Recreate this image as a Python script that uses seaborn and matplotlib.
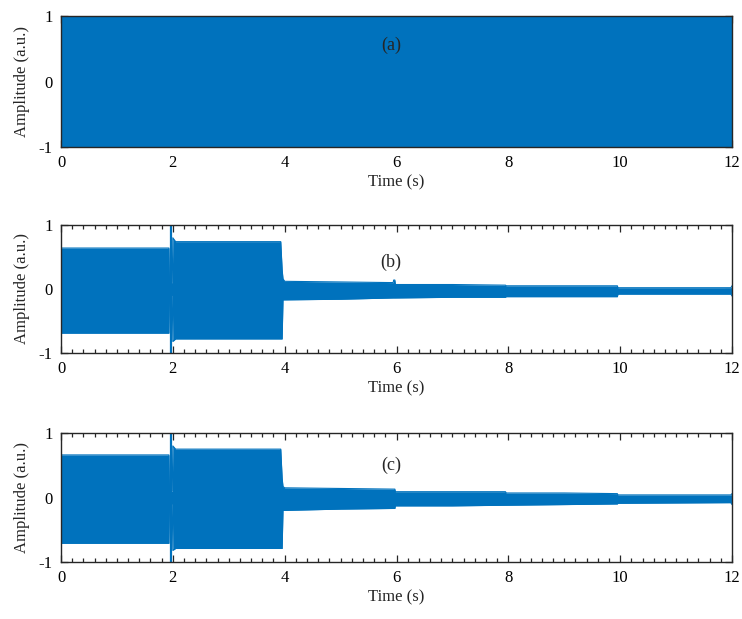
import matplotlib
matplotlib.use("Agg")
import matplotlib.pyplot as plt
from matplotlib.ticker import MultipleLocator
import seaborn as sns

# Signal envelopes (upper / lower amplitude) at segment breakpoints, in seconds
t_a = [0.0, 12.0]
upper_a = [1.0, 1.0]
lower_a = [-1.0, -1.0]

t_b = [0.00, 1.93, 1.94, 1.99, 2.00, 2.05, 3.93, 3.955, 3.97, 4.00, 5.00, 5.94, 5.95, 5.97, 5.98,
       7.00, 7.95, 7.96, 9.95, 9.96, 11.98, 12.00]
upper_b = [0.64, 0.64, 0.10, 0.10, 0.80, 0.74, 0.74, 0.30, 0.16, 0.12, 0.11, 0.10, 0.14, 0.14, 0.07,
           0.07, 0.06, 0.05, 0.05, 0.02, 0.02, 0.05]
lower_b = [-0.69, -0.69, -0.10, -0.10, -0.82, -0.78, -0.78, -0.78, -0.17, -0.17, -0.16, -0.14, -0.14, -0.14, -0.14,
           -0.13, -0.13, -0.12, -0.12, -0.08, -0.08, -0.11]

t_c = [0.00, 1.93, 1.94, 1.99, 2.00, 2.05, 3.93, 3.955, 3.97, 4.00, 5.00, 5.94, 5.97, 5.98,
       7.00, 7.95, 7.96, 9.00, 9.95, 9.96, 11.98, 12.00]
upper_c = [0.66, 0.66, 0.10, 0.10, 0.80, 0.75, 0.75, 0.30, 0.17, 0.15, 0.14, 0.13, 0.13, 0.09,
           0.09, 0.09, 0.07, 0.07, 0.06, 0.04, 0.04, 0.06]
lower_c = [-0.71, -0.71, -0.10, -0.10, -0.82, -0.79, -0.79, -0.79, -0.20, -0.20, -0.18, -0.17, -0.17, -0.13,
           -0.13, -0.12, -0.12, -0.11, -0.10, -0.09, -0.08, -0.11]

# Switching transient near t = 2 s
spike_t = [1.965, 1.965]
spike_range = [-1.0, 1.0]

panel_labels = ["(a)", "(b)", "(c)"]
label_pos = [(5.9, 0.55), (5.9, 0.42), (5.9, 0.50)]
x_ticks = [0, 2, 4, 6, 8, 10, 12]
y_ticks = [-1, 0, 1]

BLUE = "#0072BD"
AXIS = "#262626"

sns.set_theme(style="ticks")
plt.rcParams["font.family"] = ["Liberation Serif", "DejaVu Serif"]
plt.rcParams["mathtext.fontset"] = "stix"

fig = plt.figure(figsize=(7.42, 6.19), dpi=100)
left, width = 61 / 742, (732 - 61) / 742
boxes = [(16, 147), (225, 353), (433, 562)]

series = [(t_a, upper_a, lower_a), (t_b, upper_b, lower_b), (t_c, upper_c, lower_c)]

for i, ((top_px, bot_px), (t, up, lo)) in enumerate(zip(boxes, series)):
    bottom = 1 - bot_px / 619
    height = (bot_px - top_px) / 619
    ax = fig.add_axes([left, bottom, width, height])
    ax.set_axisbelow(True)

    ax.fill_between(t, lo, up, color=BLUE, linewidth=0, zorder=1)
    sns.lineplot(x=t, y=up, ax=ax, color=BLUE, linewidth=0.8, zorder=1.1,
                 estimator=None, sort=False)
    sns.lineplot(x=t, y=lo, ax=ax, color=BLUE, linewidth=0.8, zorder=1.1,
                 estimator=None, sort=False)
    if i > 0:
        sns.lineplot(x=spike_t, y=spike_range, ax=ax, color=BLUE,
                     linewidth=1.6, zorder=1.2, estimator=None, sort=False)

    ax.set_xlim(0, 12)
    ax.set_ylim(-1, 1)
    ax.set_xticks(x_ticks)
    ax.set_yticks(y_ticks)
    ax.set_xticklabels([str(v) for v in x_ticks])
    ax.set_yticklabels([str(v) for v in y_ticks])
    ax.xaxis.set_minor_locator(MultipleLocator(0.2))
    ax.tick_params(axis="both", which="both", direction="in", top=True, right=True,
                   colors=AXIS, labelcolor="black", labelsize=12, width=0.9)
    ax.tick_params(axis="both", which="major", length=5, pad=6)
    ax.tick_params(axis="x", which="minor", length=3)
    ax.tick_params(axis="y", which="minor", length=0)
    for s in ax.spines.values():
        s.set_color(AXIS)
        s.set_linewidth(1.0)
        s.set_visible(True)

    ax.set_xlabel("Time (s)", fontsize=12, labelpad=2)
    ax.set_ylabel("Amplitude (a.u.)", fontsize=12, labelpad=6)
    ax.text(label_pos[i][0], label_pos[i][1], panel_labels[i], fontsize=13,
            ha="center", va="center", zorder=5)

fig.savefig("out.png", dpi=100)
